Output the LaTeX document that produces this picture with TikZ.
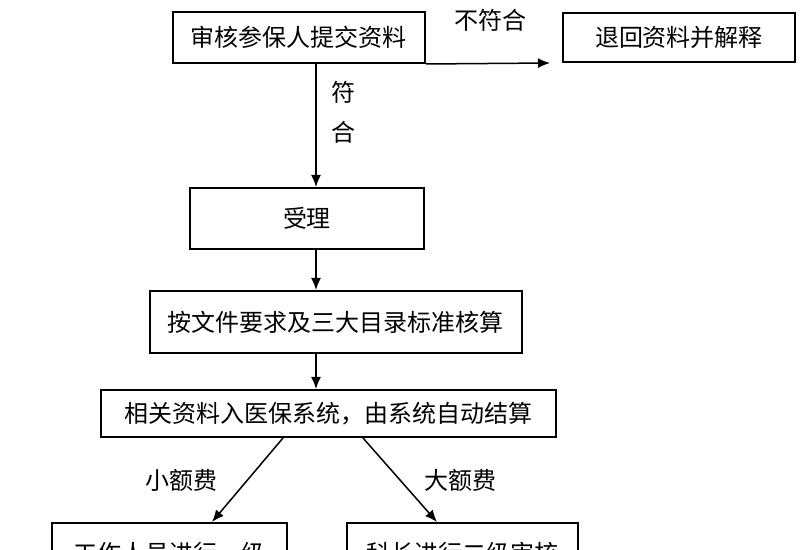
\documentclass[tikz,border=0pt]{standalone}
\usepackage{fontspec}
\setmainfont{Noto Sans CJK SC}
\usetikzlibrary{arrows.meta,calc}
\begin{document}
\begin{tikzpicture}[x=0.5pt, y=-0.5pt,
    every node/.style={font=\fontsize{12pt}{14pt}\selectfont},
    box/.style={draw, line width=1pt, inner sep=0pt},
    arr/.style={line width=0.75pt, -{Latex[length=6pt,width=5pt]}}]
        \clip (0,0) rectangle (800,550);
        \fill[white] (0,0) rectangle (800,550);
        \node[box, minimum width=126pt, minimum height=25.5pt] (check) at (299,37.5) {审核参保人提交资料};
        \node[box, minimum width=116pt, minimum height=24.5pt] (back) at (679,37.5) {退回资料并解释};
        \node[box, minimum width=117pt, minimum height=30.5pt] (accept) at (307,218.5) {受理};
        \node[box, minimum width=186pt, minimum height=31pt] (calc) at (336,322) {按文件要求及三大目录标准核算};
        \node[box, minimum width=227.5pt, minimum height=23.5pt] (sys) at (328.5,413.5) {相关资料入医保系统，由系统自动结算};
        \node[box, anchor=north, minimum width=117.5pt, minimum height=30pt, inner ysep=7pt] (staff) at (169.5,522) {工作人员进行一级};
        \node[box, anchor=north, minimum width=115.5pt, minimum height=30pt, inner ysep=7pt] (chief) at (462.5,522) {科长进行二级审核};
        % connectors
        \draw[arr] (check.south east) -- ($(back.south west)+(-12,0)$);
        \draw[arr] ($(check.south)+(17,0)$) -- ($(accept.north)+(9,0)$);
        \draw[arr] ($(accept.south)+(9,0)$) -- ($(calc.north)+(-20,0)$);
        \draw[arr] ($(calc.south)+(-20,0)$) -- ($(sys.north)+(-12.5,0)$);
        \draw[arr] ($(sys.south)+(-45.5,0)$) -- ($(staff.north)+(42.5,0)$);
        \draw[arr] ($(sys.south)+(34.5,0)$) -- ($(chief.north)+(-25.5,0)$);
        % labels
        \node (no) at (490,20) {不符合};
        \node[align=center] (yes) at (343,112.5) {符\\[6pt]合};
        \node (small) at (182,480) {小额费};
        \node (large) at (460,480) {大额费};
    \end{tikzpicture}
\end{document}
